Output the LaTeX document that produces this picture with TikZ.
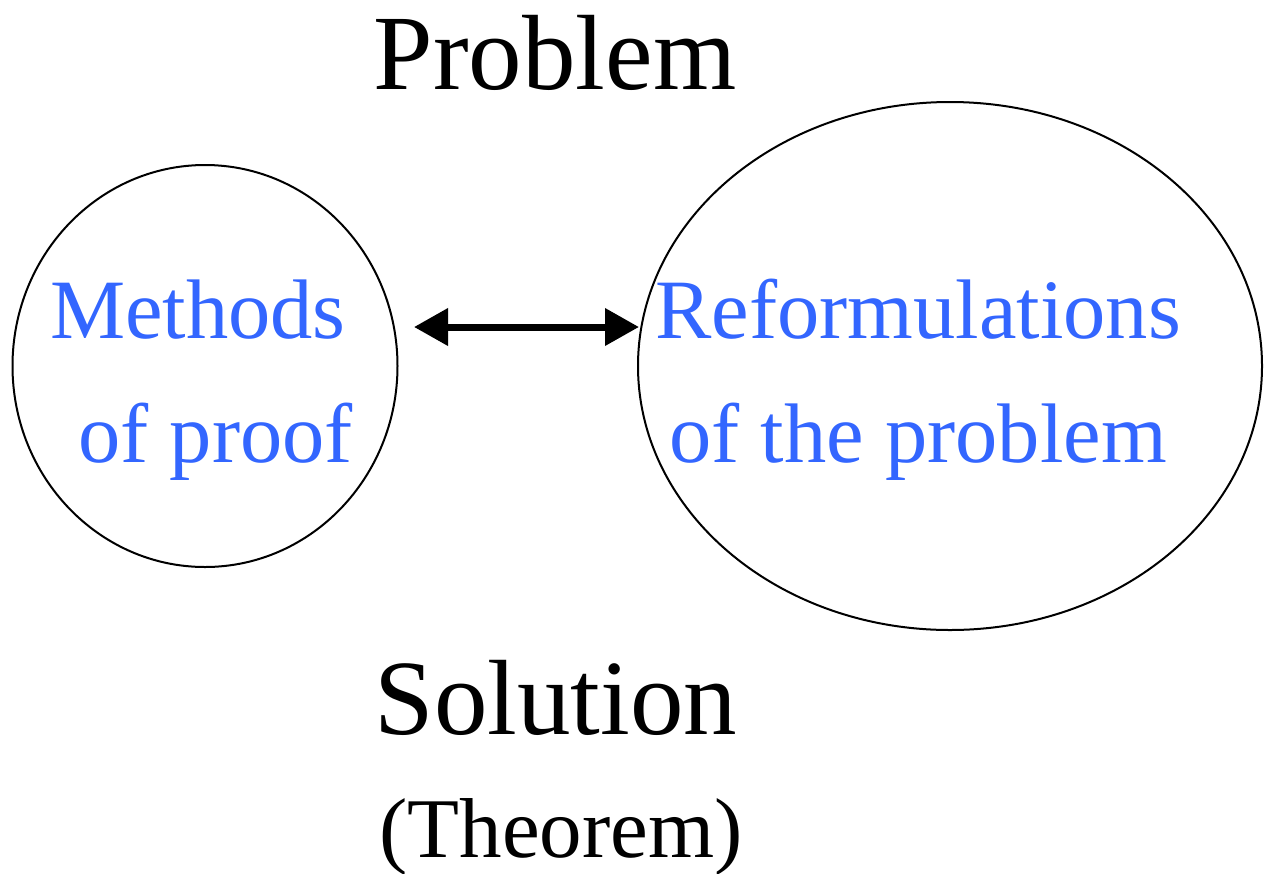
\documentclass[tikz,border=0pt]{standalone}
\usepackage{fontspec}
\setmainfont{Liberation Serif}
\usepackage{xcolor}
\usetikzlibrary{arrows.meta,shapes.geometric}
\definecolor{ink}  {HTML}{000000}
\definecolor{topic}{HTML}{3366FF}
\tikzset{
  % --- nodes
  blob/.style  = {ellipse, draw=ink, line width=2pt, inner sep=0pt},
  big/.style   = {anchor=base, inner sep=0pt, text=ink, font=\fontsize{107}{107}\selectfont},
  small/.style = {anchor=base, inner sep=0pt, text=ink, font=\fontsize{85}{85}\selectfont},
  blue/.style  = {anchor=base, inner sep=0pt, text=topic, font=\fontsize{84.5}{84.5}\selectfont},
  % --- edges
  e/.style     = {{Triangle[length=34pt,width=36pt]}-{Triangle[length=34pt,width=36pt]}, line width=7pt, draw=ink},
}
\begin{document}
\begin{tikzpicture}[x=1pt,y=-1pt]
  \useasboundingbox (0,0) rectangle (1271,873);

  % the two areas
  \node[blob, minimum width=385, minimum height=402] (meth) at (205,366) {};
  \node[blob, minimum width=624, minimum height=528] (reform) at (950,366) {};

  % texts inside
  \node[blue, anchor=base east] (meth1) at (346,338) {Methods};
  \node[blue, anchor=base east] (meth2) at (353,462) {of proof};
  \node[blue] (reform1) at (918,338) {Reformulations};
  \node[blue] (reform2) at (918,462) {of the problem};

  % link between them
  \coordinate (l) at (414,327);
  \coordinate (r) at (639,327);
  \draw[e] (l) -- (r);

  % titles
  \node[big] (prob) at (555,89) {Problem};
  \node[big] (sol) at (556,734) {Solution};
  \node[small] (thm) at (561,857) {(Theorem)};
\end{tikzpicture}
\end{document}
